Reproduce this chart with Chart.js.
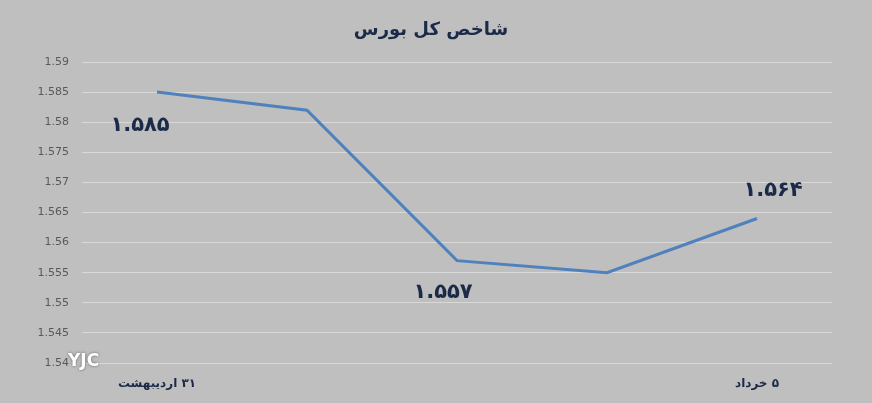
<!DOCTYPE html>
<html>
<head>
<meta charset="utf-8">
<script src="https://cdn.jsdelivr.net/npm/chart.js@4/dist/chart.umd.min.js"></script>
<style>
	html, body { margin: 0; padding: 0; background: #bfbfbf; }
	#wrap { width: 872px; height: 403px; position: relative; }
</style>
</head>
<body>
<div id="wrap"><canvas id="bourseChart" width="872" height="403" dir="rtl"></canvas></div>
<script>
const categories = ['۳۱ اردیبهشت', '', '', '', '۵ خرداد'];
const indexValues = [1.585, 1.582, 1.557, 1.555, 1.564];
const pointLabels = ['۱.۵۸۵', '', '۱.۵۵۷', '', '۱.۵۶۴'];
const chartTitle = 'شاخص کل بورس';

// offsets of the value labels from their points (px)
const labelOffsets = [[-17, 33], [0, 0], [-14, 32], [0, 0], [16, -28]];

const valueLabels = {
	id: 'valueLabels',
	afterDatasetsDraw(chart) {
		const ctx = chart.ctx;
		const meta = chart.getDatasetMeta(0);
		ctx.save();
		// title
		ctx.font = 'bold 18px "DejaVu Sans"';
		ctx.fillStyle = '#1b2a47';
		ctx.textAlign = 'center';
		ctx.textBaseline = 'middle';
		ctx.fillText(chartTitle, 431, 30);

		ctx.font = 'bold 21px "DejaVu Sans"';
		meta.data.forEach(function(pt, i) {
			if (!pointLabels[i]) return;
			ctx.fillText(pointLabels[i], pt.x + labelOffsets[i][0], pt.y + labelOffsets[i][1]);
		});
		// watermark
		ctx.font = 'bold 17px "DejaVu Sans"';
		ctx.fillStyle = '#ffffff';
		ctx.shadowColor = 'rgba(0,0,0,0.5)';
		ctx.shadowBlur = 3;
		ctx.textAlign = 'left';
		ctx.fillText('YJC', 68, 362);
		ctx.restore();
	}
};

const ctx = document.getElementById('bourseChart').getContext('2d');
const chart = new Chart(ctx, {
	type: 'line',
	data: {
		labels: categories,
		datasets: [
			{
				data: indexValues,
				borderColor: '#4f81bd',
				borderWidth: 3,
				pointRadius: 0,
				tension: 0,
				fill: false
			}
		]
	},
	options: {
		responsive: false,
		animation: false,
		devicePixelRatio: 1,
		layout: { padding: { left: 0, right: 40, top: 62, bottom: 0 } },
		plugins: {
			legend: { display: false },
			tooltip: { enabled: false },
			title: { display: false }
		},
		scales: {
			x: {
				offset: true,
				grid: { display: false },
				border: { display: false },
				ticks: {
					autoSkip: false,
					maxRotation: 0,
					color: '#1b2a47',
					font: { family: 'DejaVu Sans', size: 12, weight: 'bold' },
					padding: 6
				},
				afterFit(scale) { scale.height = 40; }
			},
			y: {
				min: 1.54,
				max: 1.59,
				grid: { color: '#d9d9d9', lineWidth: 1, drawTicks: false },
				border: { display: false },
				ticks: {
					stepSize: 0.005,
					autoSkip: false,
					color: '#595959',
					font: { family: 'DejaVu Sans', size: 11 },
					padding: 13,
					callback: function(v) { return parseFloat(v.toFixed(3)).toString(); }
				},
				afterFit(scale) { scale.width = 82; }
			}
		}
	},
	plugins: [valueLabels]
});
</script>
</body>
</html>
